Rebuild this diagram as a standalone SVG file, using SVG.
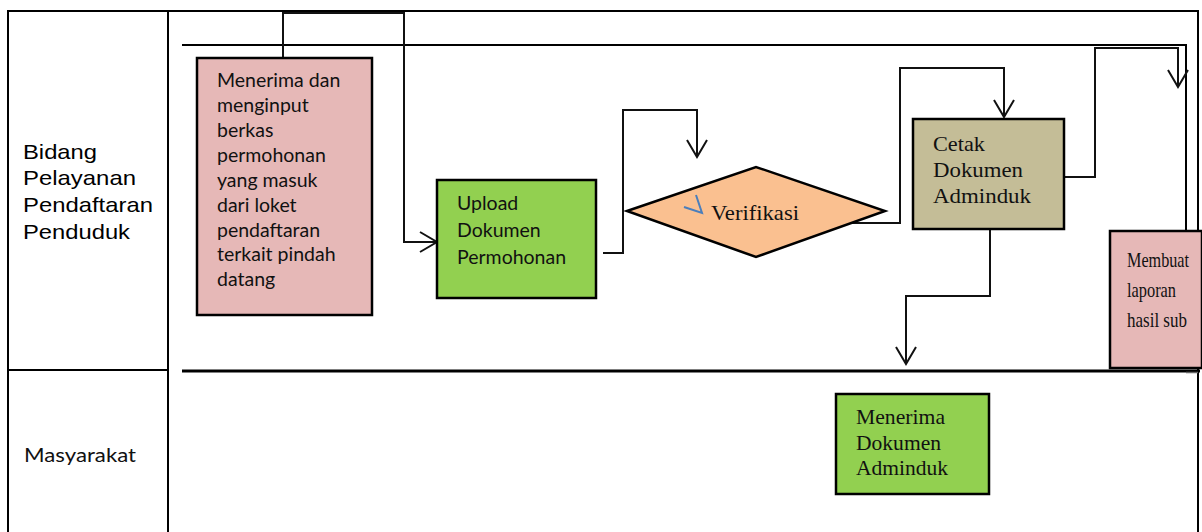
<svg xmlns="http://www.w3.org/2000/svg" width="1202" height="532" viewBox="0 0 1202 532">
<style>
.frame{fill:none;stroke:#000;stroke-width:2}
.box{stroke:#000;stroke-width:2.5}
.conn{fill:none;stroke:#111;stroke-width:2}
.sans{font-family:Lato,"Open Sans",sans-serif;font-size:19.5px;fill:#111}
.serif{font-family:"Liberation Serif","DejaVu Serif",serif;font-size:21px;fill:#111}
.lane{font-family:"Liberation Sans",Arial,sans-serif;font-size:21px;fill:#000}
</style>
<defs>
<marker id="arr" markerUnits="userSpaceOnUse" markerWidth="24" markerHeight="24" viewBox="-20 -12 24 24" refX="0" refY="0" orient="auto" overflow="visible">
<path d="M-17,-10 L0,0 L-17,10" fill="none" stroke="#111" stroke-width="2"/>
</marker>
</defs>
<rect width="1202" height="532" fill="#fff"/>
<g id="frame">
<path class="frame" d="M8,532 V11 H1198 V532"/>
<path class="frame" d="M168,11 V532"/>
<path class="frame" d="M8,370 H168"/>
<path class="frame" d="M182,45 H1186 V232"/>
<path d="M182,371 H1200" fill="none" stroke="#000" stroke-width="3"/>
<path d="M1186,372.5 H1198" fill="none" stroke="#666" stroke-width="1.5"/>
</g>
<g id="lane-labels">
<text class="lane" x="23" y="159" textLength="74" lengthAdjust="spacingAndGlyphs">Bidang</text>
<text class="lane" x="23" y="185" textLength="113" lengthAdjust="spacingAndGlyphs">Pelayanan</text>
<text class="lane" x="23" y="212" textLength="130" lengthAdjust="spacingAndGlyphs">Pendaftaran</text>
<text class="lane" x="23" y="239" textLength="107" lengthAdjust="spacingAndGlyphs">Penduduk</text>
<text class="sans" x="24" y="462" textLength="112" lengthAdjust="spacingAndGlyphs">Masyarakat</text>
</g>
<g id="connectors">
<path class="conn" d="M283,58 V13 H404 V242 H437" stroke="#333" marker-end="url(#arr)"/>
<path class="conn" d="M603,253 H623 V110 H697 V157" marker-end="url(#arr)"/>
<path class="conn" d="M845,223 H900 V68 H1004 V117" marker-end="url(#arr)"/>
<path class="conn" d="M1061,177 H1095 V48 H1178 V87" stroke="#444" marker-end="url(#arr)"/>
<path class="conn" d="M990,226 V296 H906 V364" marker-end="url(#arr)"/>
</g>
<g id="node-menerima-berkas">
<rect class="box" x="197" y="58" width="175" height="257" fill="#e6b8b7"/>
<text class="sans" x="217" y="87">Menerima dan</text>
<text class="sans" x="217" y="112">menginput</text>
<text class="sans" x="217" y="137">berkas</text>
<text class="sans" x="217" y="162">permohonan</text>
<text class="sans" x="217" y="187">yang masuk</text>
<text class="sans" x="217" y="212">dari loket</text>
<text class="sans" x="217" y="237">pendaftaran</text>
<text class="sans" x="217" y="261">terkait pindah</text>
<text class="sans" x="217" y="286">datang</text>
</g>
<g id="node-upload">
<rect class="box" x="437" y="180" width="159" height="118" fill="#92d050"/>
<text class="sans" x="457" y="210">Upload</text>
<text class="sans" x="457" y="237">Dokumen</text>
<text class="sans" x="457" y="264">Permohonan</text>
</g>
<g id="node-verifikasi">
<polygon class="box" points="627,211 756,167 885,211 756,257" fill="#fac090"/>
<path d="M684,207 L702,213 L696,195" fill="none" stroke="#4a7ebb" stroke-width="2"/>
<text class="serif" x="711" y="220" textLength="88" lengthAdjust="spacingAndGlyphs">Verifikasi</text>
</g>
<g id="node-cetak">
<rect class="box" x="913" y="119" width="151" height="110" fill="#c4bd97"/>
<text class="serif" x="933" y="151" textLength="52" lengthAdjust="spacingAndGlyphs">Cetak</text>
<text class="serif" x="933" y="177" textLength="90" lengthAdjust="spacingAndGlyphs">Dokumen</text>
<text class="serif" x="933" y="203" textLength="98" lengthAdjust="spacingAndGlyphs">Adminduk</text>
</g>
<g id="node-laporan">
<rect class="box" x="1110" y="231" width="92" height="137" fill="#e6b8b7"/>
<text class="serif" x="1127" y="267" textLength="62" lengthAdjust="spacingAndGlyphs">Membuat</text>
<text class="serif" x="1127" y="297" textLength="49" lengthAdjust="spacingAndGlyphs">laporan</text>
<text class="serif" x="1127" y="327" textLength="60" lengthAdjust="spacingAndGlyphs">hasil sub</text>
</g>
<g id="node-menerima-dokumen">
<rect class="box" x="836" y="394" width="153" height="100" fill="#92d050"/>
<text class="serif" x="856" y="424" textLength="89" lengthAdjust="spacingAndGlyphs">Menerima</text>
<text class="serif" x="856" y="450" textLength="85" lengthAdjust="spacingAndGlyphs">Dokumen</text>
<text class="serif" x="856" y="475" textLength="92" lengthAdjust="spacingAndGlyphs">Adminduk</text>
</g>
</svg>
